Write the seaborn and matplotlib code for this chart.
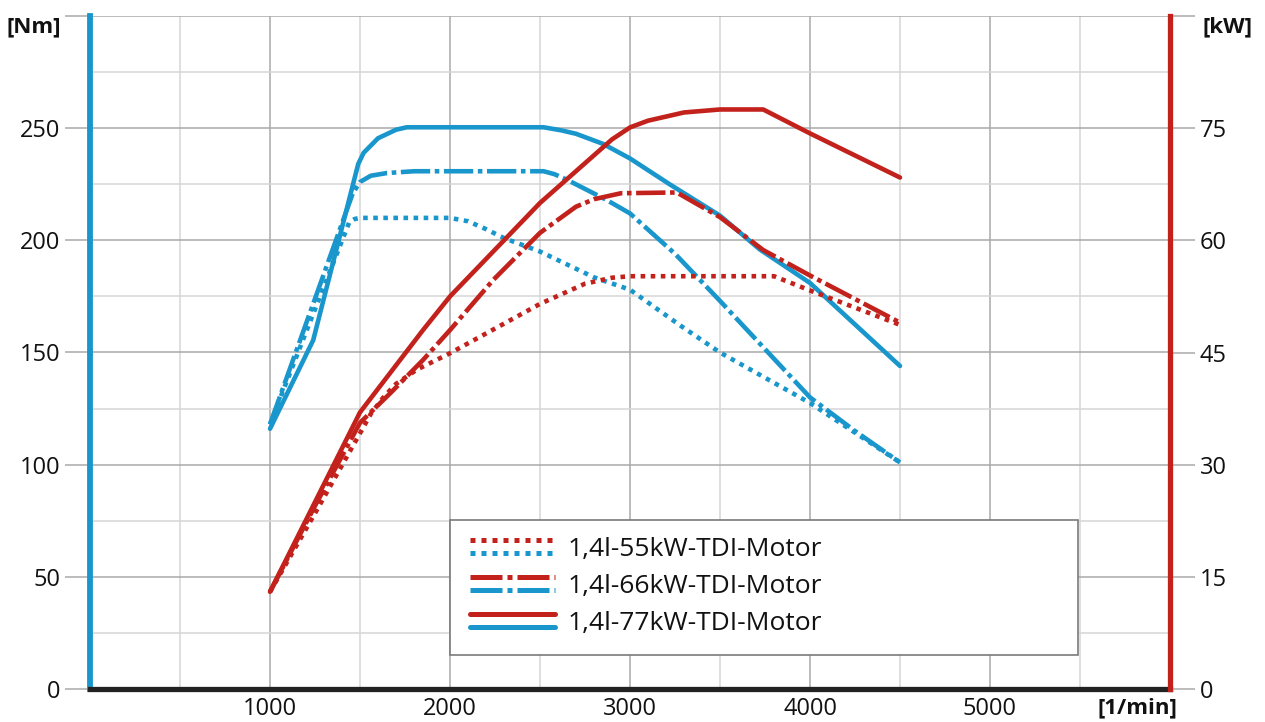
from matplotlib import pyplot as plt
from matplotlib.lines import Line2D
from matplotlib.patches import Rectangle
import seaborn as sns

# torque curves [Nm] (left axis, blue)
rpm_t55 = [1000, 1180, 1440, 1470, 1500, 2000, 2100, 2200, 2300, 2500, 2800, 3000, 3280, 3500, 4000, 4500]
nm_t55 = [118, 155, 208, 209.5, 210, 210, 208.5, 205, 201, 195, 183.5, 178, 162, 150, 127.5, 101]

rpm_t66 = [1000, 1460, 1500, 1560, 1650, 1800, 2520, 2580, 2650, 2870, 3000, 3250, 3500, 4000, 4250, 4500]
nm_t66 = [118, 221, 226, 228.8, 230, 230.8, 230.8, 229.5, 227, 218, 212, 194, 173, 130, 115, 101]

rpm_t77 = [1000, 1240, 1490, 1520, 1600, 1700, 1760, 2520, 2620, 2700, 2850, 3000, 3220, 3500, 3720, 4000, 4500]
nm_t77 = [116, 155.5, 234, 239, 245.5, 249.3, 250.4, 250.4, 249, 247.5, 243, 236.5, 225, 211, 196, 181, 144]

# power curves [kW] (right axis, red)
rpm_p55 = [1000, 1250, 1500, 1560, 1630, 1700, 1815, 2000, 2500, 2750, 2900, 3000, 3800, 4000, 4500]
kw_p55 = [13, 23.5, 34.2, 36.8, 39, 40.8, 42.7, 44.9, 51.5, 54.2, 55, 55.2, 55.2, 53.3, 48.7]

rpm_p66 = [1000, 1250, 1500, 1670, 1850, 2000, 2240, 2500, 2700, 2800, 2950, 3260, 3500, 3740, 4000, 4500]
kw_p66 = [13, 24.5, 35.6, 39.6, 44, 48, 54.7, 61, 64.5, 65.5, 66.3, 66.4, 63.1, 58.7, 55.3, 49]

rpm_p77 = [1000, 1250, 1500, 1850, 2000, 2500, 2900, 3000, 3100, 3300, 3500, 3740, 4000, 4500]
kw_p77 = [13, 25, 37, 48, 52.5, 65, 73.5, 75.1, 76, 77.1, 77.5, 77.5, 74.3, 68.4]

engines = ["1,4l-55kW-TDI-Motor", "1,4l-66kW-TDI-Motor", "1,4l-77kW-TDI-Motor"]
x_ticks = [1000, 2000, 3000, 4000, 5000]
nm_ticks = [0, 50, 100, 150, 200, 250, 300]
kw_ticks = [0, 15, 30, 45, 60, 75, 90]

BLUE = "#1997cc"
RED = "#c3211c"
MAJOR = "#a9a9a9"
MINOR = "#d6d6d6"
DOT = (0, (1, 1.2))
DASHDOT = (0, (6.4, 1, 1, 1))
SOLID = "-"

sns.set_style("white")
plt.rcParams['font.family'] = ['Open Sans', 'DejaVu Sans']


class StackedHandler:
	"""draws the red and the blue line of one engine above each other"""
	def __init__(self, ls):
		self.ls = ls

	def legend_artist(self, legend, orig_handle, fontsize, handlebox):
		x0, y0 = handlebox.xdescent, handlebox.ydescent
		w, h = handlebox.width, handlebox.height
		artists = []
		for color, yy in [(RED, y0 + h * 0.85), (BLUE, y0 + h * 0.15)]:
			l = Line2D([x0, x0 + w], [yy, yy], color=color, linewidth=3.6, linestyle=self.ls)
			handlebox.add_artist(l)
			artists.append(l)
		return artists[0]


fig = plt.figure(figsize=(12.65, 7.22), dpi=100)
ax = fig.add_axes([90 / 1265, 1 - 689 / 722, 1080 / 1265, 673 / 722])
ax2 = ax.twinx()

styles = [DOT, DASHDOT, SOLID]
torque = [(rpm_t55, nm_t55), (rpm_t66, nm_t66), (rpm_t77, nm_t77)]
power = [(rpm_p55, kw_p55), (rpm_p66, kw_p66), (rpm_p77, kw_p77)]

handles = []
for (rt, t), (rp, p), ls in zip(torque, power, styles):
	sns.lineplot(x=rt, y=t, ax=ax, color=BLUE, linewidth=3.3, linestyle=ls)
	sns.lineplot(x=rp, y=p, ax=ax2, color=RED, linewidth=3.3, linestyle=ls)
	handles.append((ax2.lines[-1], ax.lines[-1]))

ax.set_xlim(0, 6000)
ax.set_ylim(0, 300)
ax2.set_ylim(0, 90)
ax.set(xlabel=None, ylabel=None)
ax2.set(ylabel=None)

ax.set_xticks(x_ticks)
ax.set_xticklabels([str(v) for v in x_ticks])
ax.set_xticks([500, 1500, 2500, 3500, 4500, 5500], minor=True)
ax.set_yticks(nm_ticks)
ax.set_yticklabels([str(v) for v in nm_ticks[:-1]] + [""])
ax.set_yticks(range(25, 300, 50), minor=True)
ax2.set_yticks(kw_ticks)
ax2.set_yticklabels([str(v) for v in kw_ticks[:-1]] + [""])

ax.set_axisbelow(True)
ax.grid(which="major", color=MAJOR, linewidth=1.1)
ax.grid(which="minor", color=MINOR, linewidth=1.1)

ax.tick_params(axis="x", which="both", length=0, labelsize=17, pad=6, colors="#111111")
ax.tick_params(axis="y", which="major", left=True, length=18, width=1.1, color=MAJOR,
			   labelsize=17, pad=3.5, labelcolor="#111111")
ax.tick_params(axis="y", which="minor", length=0)
ax2.tick_params(axis="y", which="major", right=True, length=18, width=1.1, color=MAJOR,
				labelsize=17, pad=3.5, labelcolor="#111111")

for side in ["top", "right"]:
	ax.spines[side].set_visible(False)
for side in ["top", "left", "bottom"]:
	ax2.spines[side].set_visible(False)
ax.spines["left"].set_color(BLUE)
ax.spines["left"].set_linewidth(4.2)
ax.spines["bottom"].set_color("#222222")
ax.spines["bottom"].set_linewidth(3.8)
ax2.spines["right"].set_color(RED)
ax2.spines["right"].set_linewidth(3.8)

# legend frame is larger than its content
ax.add_patch(Rectangle((2000, 15), 3490, 60.3, facecolor="white", edgecolor="#7a7a7a",
					   linewidth=1.2, zorder=1))
ax2.legend(handles, engines, handler_map={h: StackedHandler(ls) for h, ls in zip(handles, styles)},
		   loc="upper left", bbox_to_anchor=(0.352, 0.226), frameon=False, fontsize=19,
		   labelcolor="#111111", handlelength=3.2, handleheight=0.7, handletextpad=0.5,
		   labelspacing=0.45, borderpad=0, borderaxespad=0)

fig.text(34 / 1265, 1 - 27 / 722, "[Nm]", ha="center", va="center", fontsize=16,
		 fontweight="bold", color="#111111")
fig.text(1227 / 1265, 1 - 27 / 722, "[kW]", ha="center", va="center", fontsize=16,
		 fontweight="bold", color="#111111")
fig.text(1177 / 1265, 1 - 708 / 722, "[1/min]", ha="right", va="center", fontsize=16,
		 fontweight="bold", color="#111111")

plt.savefig("out.png", dpi=100)
